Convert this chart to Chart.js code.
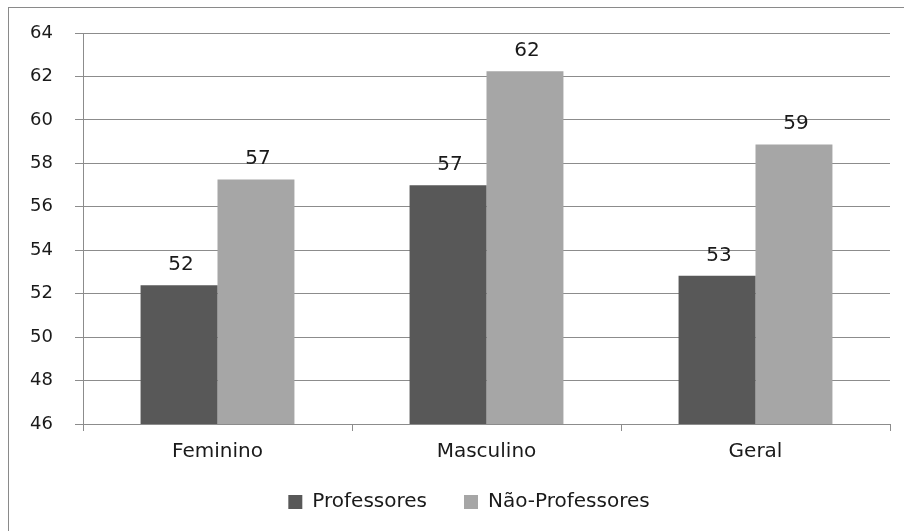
<!DOCTYPE html>
<html>
<head>
<meta charset="utf-8">
<script src="https://cdn.jsdelivr.net/npm/chart.js@4/dist/chart.umd.min.js"></script>
<style>
html,body{margin:0;padding:0;background:#fff;}
#wrap{position:relative;width:904px;height:531px;}
canvas{display:block;}
</style>
</head>
<body>
<div id="wrap"><canvas id="c" width="904" height="531"></canvas></div>
<script>
const categories = ["Feminino", "Masculino", "Geral"];
const seriesNames = ["Professores", "Não-Professores"];
const professores = [52.39, 56.99, 52.82];
const naoProfessores = [57.26, 62.24, 58.87];
const yTicks = [46, 48, 50, 52, 54, 56, 58, 60, 62, 64];

const FONT = "'DejaVu Sans', sans-serif";
const GRID = "#8c8c8c";

const borderPlugin = {
  id: 'outerBorder',
  beforeDraw(chart) {
    const ctx = chart.ctx;
    ctx.save();
    ctx.fillStyle = '#fff';
    ctx.fillRect(0, 0, chart.width, chart.height);
    ctx.strokeStyle = '#8a8a8a';
    ctx.lineWidth = 1;
    ctx.strokeRect(8.5, 7.5, chart.width + 10, chart.height + 10);
    ctx.restore();
  }
};

const legendPlace = {
  id: 'legendPlace',
  afterLayout(chart) {
    const lg = chart.legend;
    if (!lg) return;
    const h = lg.bottom - lg.top;
    lg.top = 455; lg.bottom = 455 + h;
    lg.left += 24; lg.right += 24;
  }
};

const labelPlugin = {
  id: 'valueLabels',
  afterDatasetsDraw(chart) {
    const ctx = chart.ctx;
    ctx.save();
    ctx.font = "20px " + FONT;
    ctx.fillStyle = '#1a1a1a';
    ctx.textAlign = 'center';
    ctx.textBaseline = 'alphabetic';
    chart.data.datasets.forEach((ds, i) => {
      const meta = chart.getDatasetMeta(i);
      meta.data.forEach((bar, j) => {
        ctx.fillText(Math.round(ds.data[j]).toString(), bar.x + 2, bar.y - 15);
      });
    });
    ctx.restore();
  }
};

new Chart(document.getElementById('c'), {
  type: 'bar',
  data: {
    labels: categories,
    datasets: [
      { label: seriesNames[0], data: professores, backgroundColor: '#585858', borderWidth: 0,
        categoryPercentage: 0.572, barPercentage: 1.0 },
      { label: seriesNames[1], data: naoProfessores, backgroundColor: '#a6a6a6', borderWidth: 0,
        categoryPercentage: 0.572, barPercentage: 1.0 }
    ]
  },
  options: {
    responsive: false,
    animation: false,
    devicePixelRatio: 1,
    layout: { padding: { left: 0, right: 14, top: 33, bottom: 0 } },
    plugins: {
      legend: {
        position: 'bottom',
        labels: {
          font: { family: FONT, size: 20 },
          color: '#1a1a1a',
          boxWidth: 14,
          boxHeight: 14,
          padding: 37
        }
      },
      tooltip: { enabled: false }
    },
    scales: {
      x: {
        grid: { drawOnChartArea: false, drawTicks: true, tickLength: 7, color: GRID, offset: true },
        border: { color: GRID },
        ticks: { font: { family: FONT, size: 20 }, color: '#1a1a1a', padding: 9 },
        afterFit(scale) { scale.height = 40; }
      },
      y: {
        min: 46, max: 64,
        afterBuildTicks(scale) { scale.ticks = yTicks.map(v => ({ value: v })); },
        grid: { color: GRID, tickLength: 8 },
        border: { color: GRID },
        ticks: { font: { family: FONT, size: 18 }, color: '#1a1a1a', padding: 22 },
        afterFit(scale) { scale.width = 83; }
      }
    }
  },
  plugins: [borderPlugin, legendPlace, labelPlugin]
});
</script>
</body>
</html>
